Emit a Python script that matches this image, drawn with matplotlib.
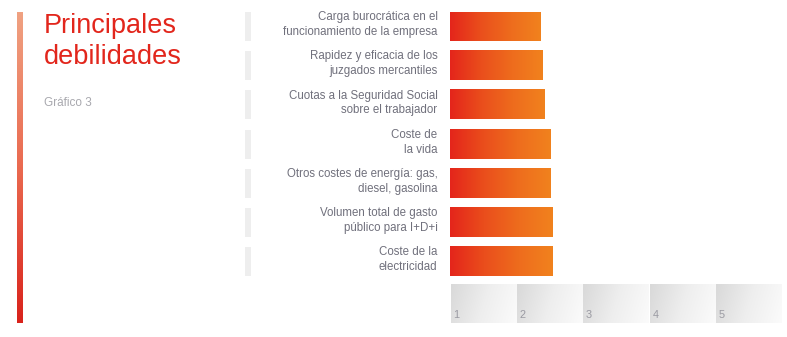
import matplotlib
matplotlib.use("Agg")
import matplotlib.pyplot as plt
import numpy as np
from matplotlib.colors import LinearSegmentedColormap

plt.rcParams['font.family'] = ['Liberation Sans', 'DejaVu Sans']

title = "Principales\ndebilidades"
subtitle = "Gráfico 3"
categories = [
    "Carga burocrática en el\nfuncionamiento de la empresa",
    "Rapidez y eficacia de los\njuzgados mercantiles",
    "Cuotas a la Seguridad Social\nsobre el trabajador",
    "Coste de\nla vida",
    "Otros costes de energía: gas,\ndiesel, gasolina",
    "Volumen total de gasto\npúblico para I+D+i",
    "Coste de la\nelectricidad",
]
values = [1.37, 1.39, 1.42, 1.51, 1.52, 1.54, 1.55]
scale_ticks = [1, 2, 3, 4, 5]

W, H = 787, 337
fig = plt.figure(figsize=(W / 100, H / 100), dpi=100)
fig.patch.set_facecolor("white")

# y range shared by bars, labels and scale boxes
y_top, y_bot = -0.37, 7.56
ax_bottom = (H - 323) / H
ax_height = (323 - 12) / H

bar_cmap = LinearSegmentedColormap.from_list("bar", ["#e4251b", "#ea4e1c", "#ee6c1d", "#f1821e"])
box_cmap = LinearSegmentedColormap.from_list("box", ["#d9d9d9", "#eeeeee", "#fbfbfb"])
side_cmap = LinearSegmentedColormap.from_list("side", ["#f0a282", "#ea6a50", "#d9231c"])

grad = np.linspace(0, 1, 256).reshape(1, -1)

# --- bar axes
ax = fig.add_axes([450 / W, ax_bottom, 332 / W, ax_height])
ax.set_xlim(0, len(scale_ticks))
ax.set_ylim(y_bot, y_top)
ax.axis("off")
bh = 0.74
for i, v in enumerate(values):
    ax.imshow(grad, cmap=bar_cmap, aspect="auto",
              extent=[0, v, i + bh / 2, i - bh / 2], interpolation="bilinear", zorder=2)

# scale boxes
box_top, box_bot = 6.59, 7.56
g2 = (np.linspace(0, 1, 64)[None, :] * 0.85 + np.linspace(0, 1, 32)[:, None] * 0.15)
for t in scale_ticks:
    x0 = t - 1 + 0.008
    x1 = t - 0.008
    ax.imshow(g2, cmap=box_cmap, aspect="auto",
              extent=[x0, x1, box_bot, box_top], interpolation="bicubic", zorder=1)
    ax.text(x0 + 0.04, box_bot - 0.08, str(t), fontsize=7.8, color="#9a9aa2",
            ha="left", va="bottom")

# --- labels axes
axl = fig.add_axes([240 / W, ax_bottom, 210 / W, ax_height])
axl.set_xlim(240, 450)
axl.set_ylim(y_bot, y_top)
axl.axis("off")
for i, c in enumerate(categories):
    axl.text(437.5, i - 0.05, c, ha="right", va="center", fontsize=8.3,
             color="#70707c", linespacing=1.32)
    axl.add_patch(plt.Rectangle((245, i - bh / 2), 5.5, bh, color="#eeeeee", lw=0))

# --- left gradient strip
axs = fig.add_axes([17 / W, (H - 323) / H, 6 / W, (323 - 12) / H])
axs.imshow(np.linspace(0, 1, 256).reshape(-1, 1), cmap=side_cmap, aspect="auto")
axs.axis("off")

fig.text(44 / W, 1 - 13 / H, title, ha="left", va="top", fontsize=19.5,
         color="#e2261c", linespacing=1.24)
fig.text(44 / W, 1 - 103 / H, subtitle, ha="left", va="center", fontsize=8.5,
         color="#a8a8ae")

fig.savefig("out.png", dpi=100, facecolor="white")
